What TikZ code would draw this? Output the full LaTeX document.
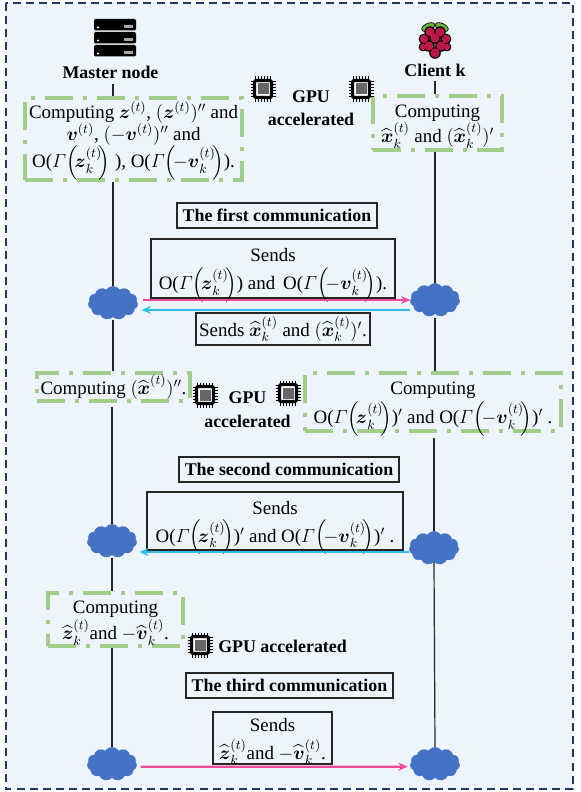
\documentclass[tikz,border=0pt]{standalone}
\usepackage{fix-cm}
\usepackage{amsmath}
\usepackage{fontspec}
\setmainfont{Liberation Serif}
\usepackage{tikz}
\usetikzlibrary{shapes.symbols, arrows.meta, positioning, calc}
\definecolor{myframe}{RGB}{31,56,100}
\definecolor{mypanel}{RGB}{237,244,251}
\definecolor{mygreen}{RGB}{160,205,135}
\definecolor{mycloud}{RGB}{68,114,196}
\definecolor{mypink}{RGB}{238,76,151}
\definecolor{myblue}{RGB}{47,190,238}
\definecolor{myberry}{RGB}{190,24,72}
\definecolor{myleaf}{RGB}{106,180,60}
\newcommand{\bodyfont}{\fontsize{14.2}{18}\selectfont}
\newcommand{\headfont}{\fontsize{13.4}{17}\selectfont\bfseries}
\newcommand{\zvec}{\boldsymbol{z}}
\newcommand{\vvec}{\boldsymbol{v}}
\newcommand{\hatx}{\widehat{\boldsymbol{x}}}
\newcommand{\hatz}{\widehat{\boldsymbol{z}}}
\newcommand{\hatv}{\widehat{\boldsymbol{v}}}
\newcommand{\gamterm}[1]{O($\mathnormal{\Gamma}\!\left(\!#1\!\right)$}
\newcommand{\topgap}{\rule{0pt}{15pt}}
\newcommand{\biggap}{\rule{0pt}{20pt}}
\tikzset{
  boxsize/.style 2 args={minimum width=#1*0.75pt, minimum height=#2*0.75pt},
  compbox/.style={rectangle, draw=mygreen, line width=2.7pt, align=center,
    inner xsep=0pt, inner ysep=-8pt, font=\bodyfont,
    dash pattern=on 21pt off 7.5pt on 3pt off 7.5pt},
  sendbox/.style={rectangle, draw=black!85, line width=1.1pt, align=center,
    inner xsep=0pt, inner ysep=-8pt, font=\bodyfont},
  titlebox/.style={rectangle, draw=black!85, line width=1.1pt, align=center,
    inner sep=0pt, font=\headfont},
  nametext/.style={inner sep=0pt, align=center, font=\headfont},
  puff/.style={cloud, cloud puffs=11, cloud puff arc=115, aspect=1.55, fill=mycloud,
    draw=mycloud, inner sep=0pt, minimum width=37pt, minimum height=25pt},
  line/.style={line width=0.9pt, color=black!85},
  pinkarrow/.style={-{Stealth[length=7pt,width=6pt]}, line width=1.7pt, color=mypink},
  bluearrow/.style={-{Stealth[length=7pt,width=6pt]}, line width=1.7pt, color=myblue},
  chip/.pic={
    \foreach \p in {-7.5,-4.5,-1.5,1.5,4.5,7.5} {
      \draw[black, line width=0.5pt] (\p,-12.5) -- (\p,12.5);
      \draw[black, line width=0.5pt] (-12.5,\p) -- (12.5,\p);
    }
    \draw[black, fill=white, line width=2.4pt, rounded corners=1pt] (-8.5,-8.5) rectangle (8.5,8.5);
    \fill[black!60] (-5.5,-5.5) rectangle (5.5,5.5);
  },
  server/.pic={
    \foreach \r in {0,13,26} {
      \fill[black, rounded corners=1pt] (-21,\r) rectangle (21,\r+11.5);
      \fill[white] (-17,\r+8.5) circle (1.2);
      \fill[black!35] (9,\r+6) rectangle (18,\r+9);
    }
  },
  berry/.pic={
    % leaves
    \draw[black, fill=myleaf, line width=0.5pt, rotate=25] (-7,-1) ellipse (7 and 3.6);
    \draw[black, fill=myleaf, line width=0.5pt, rotate=-25] (7,-1) ellipse (7 and 3.6);
    % fruit
    \foreach \a/\b/\c in {-5/7/4.5,5/7/4.5,-11/14/4.2,0/13/4.7,11/14/4.2,-6/21/4.6,6/21/4.6,-12/22/3.2,12/22/3.2,0/28/4.6}
      \fill[black] (\a,\b) circle (\c+1.2);
    \foreach \a/\b/\c in {-5/7/4.5,5/7/4.5,-11/14/4.2,0/13/4.7,11/14/4.2,-6/21/4.6,6/21/4.6,-12/22/3.2,12/22/3.2,0/28/4.6}
      \fill[myberry] (\a,\b) circle (\c);
  }
}
\begin{document}
\begin{tikzpicture}[x=0.75pt, y=-0.75pt]
  \useasboundingbox (0,0) rectangle (581,792);
  % Panel
  \draw[myframe, fill=mypanel, line width=1.5pt, dash pattern=on 6pt off 3.8pt] (5.5,3) rectangle (573,789);

  % Icons and headings
  \pic at (115,19) {server};
  \pic at (435,25) {berry};
  \node[nametext] (master) at (110.5,72) {Master node};
  \node[nametext] (client) at (435,70) {Client k};

  % Computing boxes
  \node[compbox, boxsize={217}{82}] (compMa) at (133.5,139) {\topgap Computing $\zvec^{(t)}$, $(\zvec^{(t)})''$ and\\[-1pt]
    $\vvec^{(t)}$, $(-\vvec^{(t)})''$ and\\[-1pt]
    \gamterm{\zvec_k^{(t)}} ), \gamterm{-\vvec_k^{(t)}}).};
  \node[compbox, boxsize={129}{54}] (compCa) at (437.5,123) {\topgap Computing\\[1pt]$\hatx_k^{(t)}$ and $(\hatx_k^{(t)})'$};
  \node[compbox, boxsize={153}{28}] (compMb) at (113.5,387) {Computing $(\hatx^{(t)})''$.};
  \node[compbox, boxsize={256}{58}] (compCb) at (433,402) {\biggap Computing\\[1pt]
    \gamterm{\zvec_k^{(t)}})$'$ and \gamterm{-\vvec_k^{(t)}})$'$ .};
  \node[compbox, boxsize={135}{53}] (compMc) at (115.5,619.5) {\topgap Computing\\[1pt]$\hatz_k^{(t)}$and $-\hatv_k^{(t)}$.};

  % GPU chips
  \pic at (263,89) {chip};
  \pic at (361,89) {chip};
  \pic at (205,395) {chip};
  \pic at (288,393) {chip};
  \pic at (200,645) {chip};
  \node[nametext] (gpuA) at (311,97) {GPU};
  \node[nametext] (accA) at (311,119) {accelerated};
  \node[nametext] (gpuB) at (247.5,398) {GPU};
  \node[nametext] (accB) at (247.5,421) {accelerated};
  \node[nametext] (gpuC) at (282.5,646) {GPU accelerated};

  % Communication titles
  \node[titlebox, boxsize={200}{25}] (titleA) at (277,215.5) {The first communication};
  \node[titlebox, boxsize={220}{25}] (titleB) at (289,469.5) {The second communication};
  \node[titlebox, boxsize={207}{25}] (titleC) at (289.5,685.5) {The third communication};

  % Clouds
  \node[puff] (cloudMa) at (113,303) {};
  \node[puff] (cloudCa) at (435,300) {};
  \node[puff] (cloudMb) at (112,541) {};
  \node[puff] (cloudCb) at (434,548) {};
  \node[puff] (cloudMc) at (112,764) {};
  \node[puff] (cloudCc) at (435,764) {};

  % Message boxes
  \node[sendbox, boxsize={244}{59}] (sendA) at (273,268.5) {\biggap Sends\\[3pt]
    \gamterm{\zvec_k^{(t)}}) and\, \gamterm{-\vvec_k^{(t)}}).};
  \node[sendbox, boxsize={174}{32}] (sendB) at (283,329) {\topgap Sends $\hatx_k^{(t)}$ and $(\hatx_k^{(t)})'$.};
  \node[sendbox, boxsize={256}{58}] (sendC) at (275,521) {\biggap Sends\\[3pt]
    \gamterm{\zvec_k^{(t)}})$'$ and \gamterm{-\vvec_k^{(t)}})$'$ .};
  \node[sendbox, boxsize={119}{52}] (sendD) at (272.5,738) {\topgap Sends\\[3pt]$\hatz_k^{(t)}$and $-\hatv_k^{(t)}$.};

  % Master lifeline
  \draw[line] (master.south -| cloudMa.north) ++(0,5) -- (compMa.north -| cloudMa.north);
  \draw[line] (compMa.south -| cloudMa.north) -- (cloudMa.north);
  \draw[line, shorten <=2pt] (cloudMa.south) -- (compMb.north -| cloudMa.south);
  \draw[line, shorten <=3pt] (compMb.south -| cloudMb.north) -- (cloudMb.north);
  \draw[line, shorten <=2pt] (cloudMb.south) -- (compMc.north -| cloudMb.south);
  \draw[line] (compMc.south -| cloudMb.north) -- (cloudMc.north);

  % Client lifeline
  \draw[line] (client.south -| cloudCa.north) ++(0,4) -- (compCa.north -| cloudCa.north);
  \draw[line] (compCa.south -| cloudCa.north) -- (cloudCa.north);
  \draw[line, shorten <=3pt] (cloudCa.south) -- (compCb.north -| cloudCa.south);
  \draw[line, shorten <=4pt] (compCb.south -| cloudCb.north) -- (cloudCb.north);
  \draw[line] (cloudCb.south) -- (cloudCc.north);

  % Messages
  \draw[pinkarrow, shorten <=4pt] (cloudMa.east |- cloudCa.west) -- (cloudCa.west);
  \draw[bluearrow, shorten >=3pt] ([yshift=-7.5pt]cloudCa.west) -- ([yshift=-7.5pt]cloudCa.west -| cloudMa.east);
  \draw[bluearrow, shorten >=2pt] ([yshift=-3pt]cloudCb.west) -- ([yshift=-3pt]cloudCb.west -| cloudMb.east);
  \draw[pinkarrow, shorten <=3pt, shorten >=2pt] ([yshift=-2pt]cloudMc.east) -- ([yshift=-2pt]cloudCc.west);
\end{tikzpicture}
\end{document}
